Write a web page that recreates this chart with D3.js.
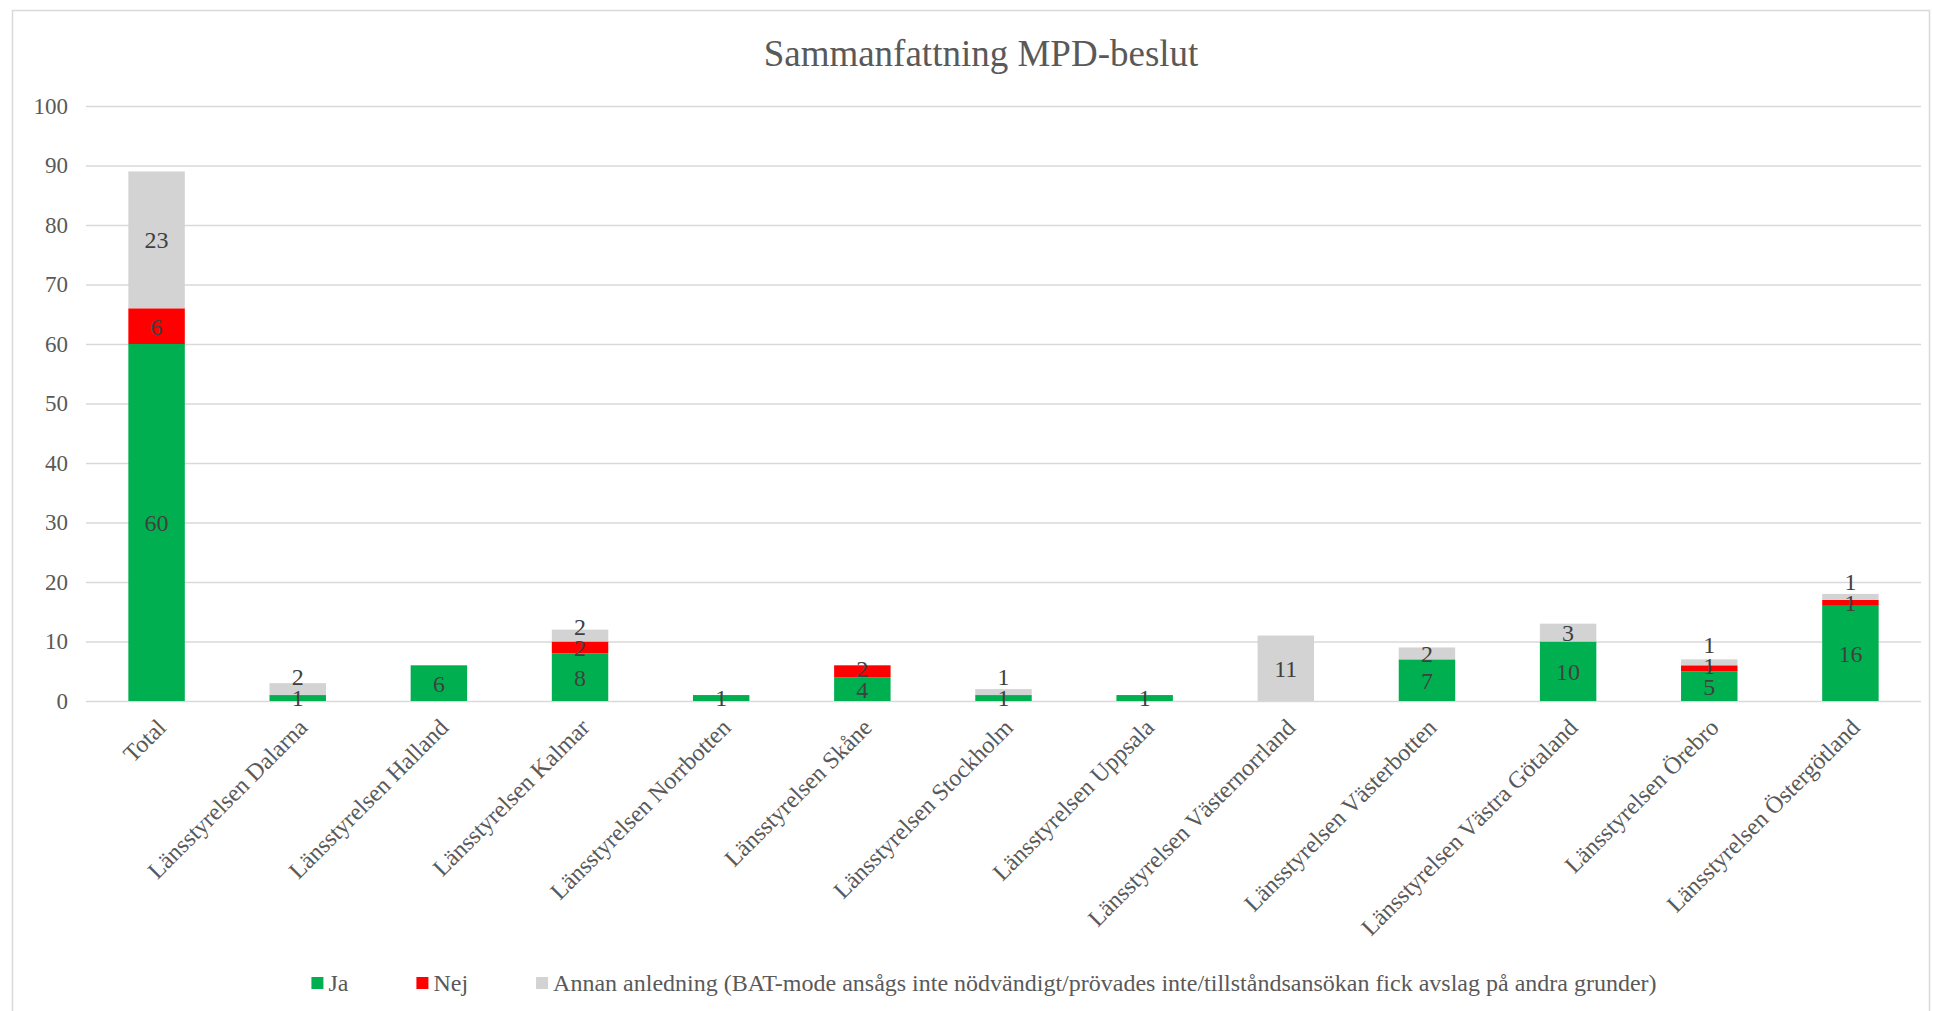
<!DOCTYPE html>
<html>
<head>
<meta charset="utf-8">
<script src="https://cdn.jsdelivr.net/npm/d3@7"></script>
<style>
  body { margin: 0; background: #fff; }
  svg, svg text { font-family: "Liberation Serif", "Times New Roman", serif !important; }
</style>
</head>
<body>
<div id="chart"></div>
<script>
const categories = ["Total", "Länsstyrelsen Dalarna", "Länsstyrelsen Halland", "Länsstyrelsen Kalmar",
  "Länsstyrelsen Norrbotten", "Länsstyrelsen Skåne", "Länsstyrelsen Stockholm", "Länsstyrelsen Uppsala",
  "Länsstyrelsen Västernorrland", "Länsstyrelsen Västerbotten", "Länsstyrelsen Västra Götaland",
  "Länsstyrelsen Örebro", "Länsstyrelsen Östergötland"];
const ja = [60, 1, 6, 8, 1, 4, 1, 1, 0, 7, 10, 5, 16];
const nej = [6, 0, 0, 2, 0, 2, 0, 0, 0, 0, 0, 1, 1];
const annan = [23, 2, 0, 2, 0, 0, 1, 0, 11, 2, 3, 1, 1];
const seriesNames = ["Ja", "Nej", "Annan anledning (BAT-mode ansågs inte nödvändigt/prövades inte/tillståndsansökan fick avslag på andra grunder)"];
const seriesColors = ["#00b050", "#ff0000", "#d3d3d3"];
const yTicks = [0, 10, 20, 30, 40, 50, 60, 70, 80, 90, 100];
const title = "Sammanfattning MPD-beslut";

const width = 1933, height = 1011;
const margin = { top: 106, right: 12, bottom: 310, left: 86 };

const svg = d3.select("#chart").append("svg")
  .attr("width", width)
  .attr("height", height);

// chart border
svg.append("rect")
  .attr("x", 12.5).attr("y", 10.5)
  .attr("width", width - 16).attr("height", height + 10)
  .attr("fill", "none").attr("stroke", "#d9d9d9").attr("stroke-width", 1.5);

const rows = categories.map((c, i) => ({ cat: c, ja: ja[i], nej: nej[i], annan: annan[i] }));
const keys = ["ja", "nej", "annan"];
const stack = d3.stack().keys(keys)(rows);

const x = d3.scaleBand()
  .domain(categories)
  .range([margin.left, width - margin.right])
  .paddingInner(0.6)
  .paddingOuter(0.3);

const y = d3.scaleLinear()
  .domain([0, 100])
  .range([height - margin.bottom, margin.top]);

// gridlines + y labels
const yAxis = g => g
  .attr("transform", `translate(${margin.left},0)`)
  .attr("font-family", null)
  .call(d3.axisLeft(y).tickValues(yTicks).tickSize(-(width - margin.right - margin.left)).tickPadding(18))
  .call(g => g.select(".domain").remove())
  .call(g => g.selectAll(".tick line").attr("stroke", "#d9d9d9").attr("stroke-width", 1.5))
  .call(g => g.selectAll(".tick text")
    .attr("fill", "#595959")
    .attr("font-size", 23));

svg.append("g").call(yAxis);

// bars
const layer = svg.append("g").selectAll("g")
  .data(stack)
  .join("g")
  .attr("fill", (d, i) => seriesColors[i]);

layer.selectAll("rect")
  .data(d => d)
  .join("rect")
  .attr("x", d => x(d.data.cat))
  .attr("y", d => y(d[1]))
  .attr("width", x.bandwidth())
  .attr("height", d => y(d[0]) - y(d[1]));

// data labels, pushed upward when they would collide (like Excel does)
const labels = svg.append("g");
const minGap = 21;
rows.forEach((r, ci) => {
  let prevY = Infinity;
  stack.forEach(s => {
    const d = s[ci];
    const v = d[1] - d[0];
    if (v <= 0) return;
    let ly = (y(d[0]) + y(d[1])) / 2;
    if (ly > prevY - minGap) ly = prevY - minGap;
    prevY = ly;
    labels.append("text")
      .attr("x", x(d.data.cat) + x.bandwidth() / 2)
      .attr("y", ly)
      .attr("dy", "0.35em")
      .attr("text-anchor", "middle")
      .attr("font-size", 24)
      .attr("fill", "#404040")
      .text(v);
  });
});

// x axis labels
const xAxis = g => g
  .attr("transform", `translate(0,${height - margin.bottom})`)
  .attr("font-family", null)
  .call(d3.axisBottom(x).tickSize(0).tickPadding(0))
  .call(g => g.select(".domain").remove())
  .call(g => g.selectAll(".tick text")
    .attr("font-size", 24)
    .attr("fill", "#595959")
    .attr("text-anchor", "end")
    .attr("dy", "0.35em")
    .attr("y", 0)
    .attr("transform", "translate(5,22) rotate(-45)"));

svg.append("g").call(xAxis);

// title
svg.append("text")
  .attr("x", 981)
  .attr("y", 53)
  .attr("dy", "0.35em")
  .attr("text-anchor", "middle")
  .attr("font-size", 37)
  .attr("fill", "#595959")
  .text(title);

// legend
const legend = svg.append("g");
let lx = 0;
seriesNames.forEach((name, i) => {
  const g = legend.append("g");
  g.append("rect").attr("x", 0).attr("y", -6).attr("width", 12).attr("height", 12).attr("fill", seriesColors[i]);
  const t = g.append("text").attr("x", 17).attr("dy", "0.35em")
    .attr("font-size", 24).attr("fill", "#595959").text(name);
  const w = 17 + t.node().getComputedTextLength();
  g.attr("transform", `translate(${lx},0)`);
  lx += w + 68;
});
const total = lx - 68;
legend.attr("transform", `translate(${984 - total / 2},983)`);
</script>
</body>
</html>
